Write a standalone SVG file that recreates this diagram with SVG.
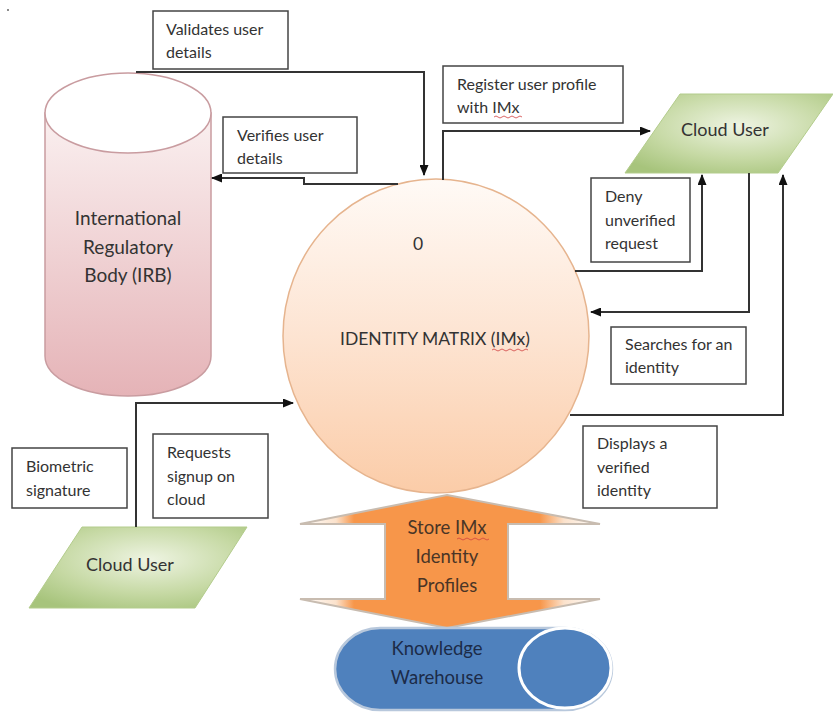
<svg xmlns="http://www.w3.org/2000/svg" width="833" height="712" viewBox="0 0 833 712">
<defs>
<style>
.lbl{font-family:Lato,"Liberation Sans",sans-serif;font-size:16px;fill:#333}
.big{font-family:Lato,"Liberation Sans",sans-serif;font-size:18px;fill:#333;text-anchor:middle}
.box{fill:#fff;stroke:#444;stroke-width:1.5}
.con{fill:none;stroke:#333;stroke-width:2}
.sq{fill:none;stroke:#d04040;stroke-width:0.8}
</style>
<marker id="ah" markerWidth="11" markerHeight="9" refX="10" refY="4.5" orient="auto" markerUnits="userSpaceOnUse">
<path d="M0,0 L11,4.5 L0,9 z" fill="#111"/>
</marker>
<linearGradient id="cyl" x1="0" y1="0" x2="0" y2="1">
<stop offset="0" stop-color="#faf0f0"/>
<stop offset="1" stop-color="#e5b3b7"/>
</linearGradient>
<linearGradient id="circ" x1="0" y1="0" x2="0" y2="1">
<stop offset="0" stop-color="#fffaf6"/>
<stop offset="0.5" stop-color="#fde4d2"/>
<stop offset="1" stop-color="#fbcca8"/>
</linearGradient>
<radialGradient id="grn" cx="0.55" cy="0.4" r="0.7">
<stop offset="0" stop-color="#eef4e2"/>
<stop offset="0.6" stop-color="#c6d9a4"/>
<stop offset="1" stop-color="#a7c47c"/>
</radialGradient>
<linearGradient id="org" x1="300" y1="0" x2="600" y2="0" gradientUnits="userSpaceOnUse">
<stop offset="0" stop-color="#ffffff"/>
<stop offset="0.12" stop-color="#fbe2cc"/>
<stop offset="0.18" stop-color="#f7964a"/>
<stop offset="0.8" stop-color="#f7964a"/>
<stop offset="0.88" stop-color="#fbe2cc"/>
<stop offset="1" stop-color="#ffffff"/>
</linearGradient>
</defs>
<rect width="833" height="712" fill="#fff"/>
<circle cx="8" cy="10" r="1" fill="#666"/>

<g id="irb">
<path d="M45,113 V356 A83,40 0 0 0 211,356 V113 Z" fill="url(#cyl)" stroke="#c99ca0" stroke-width="1.5"/>
<ellipse cx="128" cy="113" rx="83" ry="40" fill="#fff" stroke="#c99ca0" stroke-width="1.5"/>
<text class="big" x="128" y="225" style="font-size:19px">International</text>
<text class="big" x="128" y="254" style="font-size:19px">Regulatory</text>
<text class="big" x="128" y="282" style="font-size:19px">Body (IRB)</text>
</g>

<g id="imx">
<ellipse cx="436" cy="336" rx="153" ry="157" fill="url(#circ)" stroke="#e6b48e" stroke-width="1.5"/>
<text class="big" x="418" y="250" style="font-size:17.5px">0</text>
<text class="big" x="435" y="345" style="font-size:17.5px">IDENTITY MATRIX (IMx)</text>
<path class="sq" d="M492,350 q2,-2 4,0 t4,0 t4,0 t4,0 t4,0 t4,0 t4,0 t4,0 t4,0"/>
</g>

<g id="cloud-user-top">
<polygon points="680,94 833,94 778,173 625,173" fill="url(#grn)" stroke="#b3cc8c" stroke-width="1"/>
<text class="big" x="725" y="136">Cloud User</text>
</g>

<g id="cloud-user-bottom">
<polygon points="82,527 247,527 195,608 29,608" fill="url(#grn)" stroke="#b3cc8c" stroke-width="1"/>
<text class="big" x="130" y="571">Cloud User</text>
</g>

<g id="store-arrow">
<polygon points="447,495 600,524 508,524 508,599 600,599 447,628 300,599 385,599 385,524 300,524" fill="url(#org)" stroke="#c8bcb0" stroke-width="2"/>
<text class="big" x="447" y="534" style="fill:#4a3526;font-size:18.5px">Store IMx</text>
<text class="big" x="447" y="563" style="fill:#4a3526;font-size:18.5px">Identity</text>
<text class="big" x="447" y="592" style="fill:#4a3526;font-size:18.5px">Profiles</text>
<path class="sq" d="M457,539 q2,-2 4,0 t4,0 t4,0 t4,0 t4,0 t4,0 t4,0 t4,0"/>
</g>

<g id="knowledge-warehouse">
<path d="M380,628 H565 A47,41 0 0 1 565,710 H380 A45,41 0 0 1 380,628 Z" fill="#4f81bd" stroke="#b8c8dc" stroke-width="2.5"/>
<ellipse cx="565" cy="668" rx="46" ry="40" fill="#4f81bd" stroke="#ffffff" stroke-width="3"/>
<text class="big" x="437" y="655" style="fill:#1c2b48;font-size:18.5px">Knowledge</text>
<text class="big" x="437" y="684" style="fill:#1c2b48;font-size:18.5px">Warehouse</text>
</g>

<g id="labels">
<g id="lbl-validates"><rect class="box" x="153" y="11" width="135" height="58"/>
<text class="lbl" x="166" y="35">Validates user</text><text class="lbl" x="166" y="58">details</text></g>
<g id="lbl-verifies"><rect class="box" x="223" y="117" width="134" height="56"/>
<text class="lbl" x="237" y="141">Verifies user</text><text class="lbl" x="237" y="164">details</text></g>
<g id="lbl-register"><rect class="box" x="443" y="66" width="180" height="57"/>
<text class="lbl" x="457" y="90">Register user profile</text><text class="lbl" x="457" y="113">with IMx</text>
<path class="sq" d="M494,117 q2,-2 4,0 t4,0 t4,0 t4,0 t4,0 t4,0 t4,0"/></g>
<g id="lbl-deny"><rect class="box" x="591" y="178" width="99" height="84"/>
<text class="lbl" x="605" y="202">Deny</text><text class="lbl" x="605" y="226">unverified</text><text class="lbl" x="605" y="249">request</text></g>
<g id="lbl-searches"><rect class="box" x="611" y="327" width="135" height="57"/>
<text class="lbl" x="625" y="350">Searches for an</text><text class="lbl" x="625" y="373">identity</text></g>
<g id="lbl-displays"><rect class="box" x="583" y="426" width="134" height="82"/>
<text class="lbl" x="597" y="449">Displays a</text><text class="lbl" x="597" y="473">verified</text><text class="lbl" x="597" y="496">identity</text></g>
<g id="lbl-biometric"><rect class="box" x="12" y="448" width="115" height="60"/>
<text class="lbl" x="26" y="472">Biometric</text><text class="lbl" x="26" y="496">signature</text></g>
<g id="lbl-requests"><rect class="box" x="153" y="434" width="115" height="84"/>
<text class="lbl" x="167" y="458">Requests</text><text class="lbl" x="167" y="482">signup on</text><text class="lbl" x="167" y="505">cloud</text></g>
</g>

<g id="connectors">
<path class="con" d="M136,72 H424 V175" marker-end="url(#ah)"/>
<path class="con" d="M398,184 H304 V178 H212" marker-end="url(#ah)"/>
<path class="con" d="M443,180 V131 H650" marker-end="url(#ah)"/>
<path class="con" d="M575,271 H702 V175" marker-end="url(#ah)"/>
<path class="con" d="M749,173 V312 H591" marker-end="url(#ah)"/>
<path class="con" d="M570,415 H783 V175" marker-end="url(#ah)"/>
<path class="con" d="M136,527 V403 H293" marker-end="url(#ah)"/>
</g>
</svg>
